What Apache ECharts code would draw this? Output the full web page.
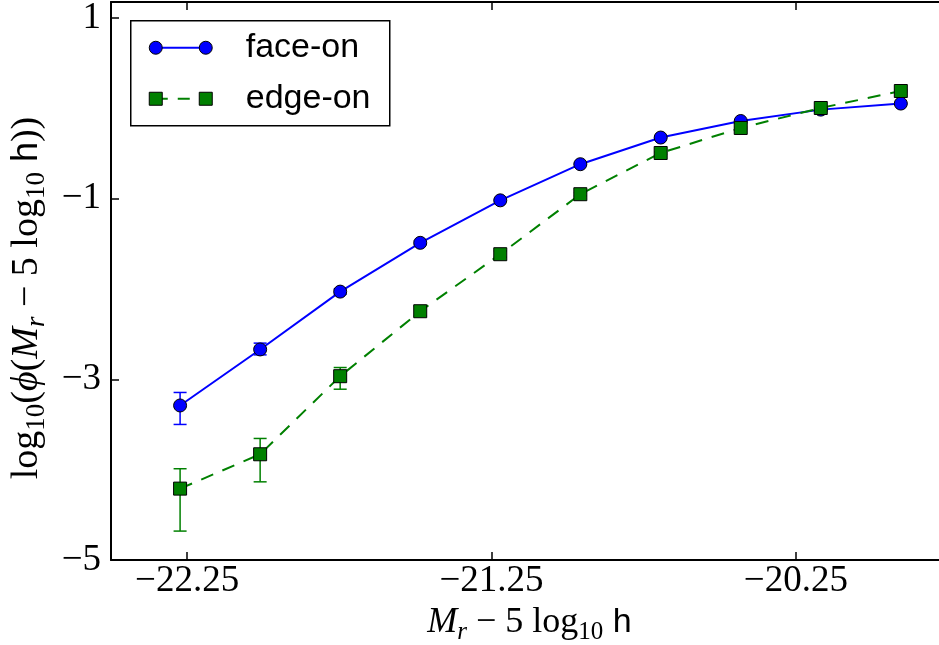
<!DOCTYPE html>
<html>
<head>
<meta charset="utf-8">
<script src="https://cdn.jsdelivr.net/npm/echarts@6.0.0/dist/echarts.min.js"></script>
<style>
html,body{margin:0;padding:0;background:#fff;}
#chart{width:939px;height:645px;}
</style>
</head>
<body>
<div id="chart"></div>
<script>
// Magnitude bins (M_r - 5 log10 h)
const magBins = [-22.273, -22.010, -21.747, -21.484, -21.221, -20.958, -20.694, -20.431, -20.168, -19.905];
// face-on: log10 phi, lower and upper error bounds
const faceOnY  = [-3.29, -2.67, -2.03, -1.49, -1.02, -0.62, -0.325, -0.142, -0.016, 0.051];
const faceOnLo = [-3.50, -2.73, -2.06, -1.51, -1.03, -0.63, -0.33, -0.15, -0.022, 0.045];
const faceOnHi = [-3.146, -2.60, -2.00, -1.47, -1.01, -0.61, -0.32, -0.135, -0.010, 0.057];
// edge-on
const edgeOnY  = [-4.21, -3.83, -2.966, -2.247, -1.616, -0.952, -0.496, -0.219, 0.002, 0.19];
const edgeOnLo = [-4.68, -4.135, -3.11, -2.30, -1.65, -0.97, -0.51, -0.23, -0.005, 0.18];
const edgeOnHi = [-3.99, -3.655, -2.87, -2.19, -1.58, -0.935, -0.485, -0.21, 0.010, 0.20];
// tick labels
const xTicks = [-22.25, -21.25, -20.25];
const yTicks = [-5, -3, -1, 1];
const seriesNames = ['face-on', 'edge-on'];

const BLUE = '#0000ff', GREEN = '#008000';
const SERIF = "'Liberation Serif', 'DejaVu Serif', serif";
const SANS = "'Liberation Sans', Arial, sans-serif";

const fmtNum = (v, d) => (v < 0 ? '\u2212' : '') + Math.abs(v).toFixed(d);

function richStyles(size) {
  const lh = Math.round(size * 1.25);
  const sub = Math.round(size * 0.7);
  const subLh = Math.round(size * 0.56);
  return {
    n: {fontFamily: SERIF, fontSize: size, lineHeight: lh, color: '#000', verticalAlign: 'middle'},
    i: {fontFamily: SERIF, fontSize: size, lineHeight: lh, fontStyle: 'italic', color: '#000'},
    s: {fontFamily: SERIF, fontSize: sub, lineHeight: subLh, verticalAlign: 'bottom', color: '#000'},
    si: {fontFamily: SERIF, fontSize: sub, lineHeight: subLh, fontStyle: 'italic', verticalAlign: 'bottom', color: '#000'},
    h: {fontFamily: SANS, fontSize: Math.round(size * 0.95), lineHeight: lh, color: '#000'}
  };
}

function pairs(xs, ys) { return xs.map((x, i) => [x, ys[i]]); }
function errData(xs, lo, hi) { return xs.map((x, i) => [x, lo[i], hi[i]]); }

function errRender(color) {
  return function (params, api) {
    const x = api.value(0), lo = api.value(1), hi = api.value(2);
    const p1 = api.coord([x, lo]);
    const p2 = api.coord([x, hi]);
    const w = 6.5;
    const st = {stroke: color, lineWidth: 1.5};
    return {
      type: 'group',
      children: [
        {type: 'line', shape: {x1: p1[0], y1: p1[1], x2: p2[0], y2: p2[1]}, style: st},
        {type: 'line', shape: {x1: p1[0] - w, y1: p1[1], x2: p1[0] + w, y2: p1[1]}, style: st},
        {type: 'line', shape: {x1: p2[0] - w, y1: p2[1], x2: p2[0] + w, y2: p2[1]}, style: st}
      ]
    };
  };
}

const axisLineStyle = {show: true, onZero: false, lineStyle: {color: '#000', width: 2}};
const tickStyle = {color: '#000', width: 1.5};

const chart = echarts.init(document.getElementById('chart'), null, {renderer: 'canvas'});

const option = {
  animation: false,
  backgroundColor: '#fff',
  grid: {left: 111, top: 2, right: -9, bottom: 85, containLabel: false, outerBoundsMode: 'none'},
  xAxis: [
    {
      type: 'value', min: -22.5, max: -19.75, position: 'bottom',
      axisLine: axisLineStyle,
      axisTick: {show: true, inside: true, length: 8, lineStyle: tickStyle, customValues: xTicks},
      axisLabel: {show: true, customValues: xTicks, formatter: v => fmtNum(v, 2), fontFamily: SERIF, fontSize: 37, color: '#000', margin: 3},
      splitLine: {show: false},
      name: '{i|M}{si|r}{n| \u2212 5 log}{s|10}{h| h}',
      nameLocation: 'middle', nameGap: 37,
      nameTextStyle: {rich: richStyles(36)}
    },
    {
      type: 'value', min: -22.5, max: -19.75, position: 'top',
      axisLine: axisLineStyle,
      axisTick: {show: true, inside: true, length: 8, lineStyle: tickStyle, customValues: xTicks},
      axisLabel: {show: false},
      splitLine: {show: false}
    }
  ],
  yAxis: [
    {
      type: 'value', min: -5, max: 1.175, position: 'left',
      axisLine: axisLineStyle,
      axisTick: {show: true, inside: true, length: 8, lineStyle: tickStyle, customValues: yTicks},
      axisLabel: {show: true, customValues: yTicks, formatter: v => fmtNum(v, 0), fontFamily: SERIF, fontSize: 37, color: '#000', margin: 10},
      splitLine: {show: false},
      name: '{n|log}{s|10}{n|(}{i|\u03d5}{n|(}{i|M}{si|r}{n| \u2212 5 log}{s|10}{h| h}{n|))}',
      nameLocation: 'middle', nameRotate: 90, nameGap: 60,
      nameTextStyle: {rich: richStyles(38), padding: [0, 34, 0, 0]}
    },
    {
      type: 'value', min: -5, max: 1.175, position: 'right',
      axisLine: axisLineStyle,
      axisTick: {show: true, inside: true, length: 8, lineStyle: tickStyle, customValues: yTicks},
      axisLabel: {show: false},
      splitLine: {show: false}
    }
  ],
  series: [
    {
      type: 'custom', name: seriesNames[0] + ' errors', renderItem: errRender(BLUE),
      data: errData(magBins, faceOnLo, faceOnHi), encode: {x: 0, y: [1, 2]}, z: 2, clip: false
    },
    {
      type: 'line', name: seriesNames[0], data: pairs(magBins, faceOnY),
      symbol: 'circle', symbolSize: 13, showAllSymbol: true,
      lineStyle: {color: BLUE, width: 2, type: 'solid'},
      itemStyle: {color: BLUE, borderColor: '#000', borderWidth: 1},
      z: 3, emphasis: {disabled: true}
    },
    {
      type: 'custom', name: seriesNames[1] + ' errors', renderItem: errRender(GREEN),
      data: errData(magBins, edgeOnLo, edgeOnHi), encode: {x: 0, y: [1, 2]}, z: 4, clip: false
    },
    {
      type: 'line', name: seriesNames[1], data: pairs(magBins, edgeOnY),
      symbol: 'rect', symbolSize: 13, showAllSymbol: true,
      lineStyle: {color: GREEN, width: 2, type: [13, 10]},
      itemStyle: {color: GREEN, borderColor: '#000', borderWidth: 1},
      z: 5, emphasis: {disabled: true}
    }
  ],
  graphic: [
    {
      type: 'group', left: 130, top: 20, z: 100,
      children: [
        {type: 'rect', shape: {x: 0, y: 0, width: 259, height: 105}, style: {fill: '#fff', stroke: '#000', lineWidth: 1.5}},
        {type: 'line', shape: {x1: 25, y1: 27, x2: 75, y2: 27}, style: {stroke: BLUE, lineWidth: 2}},
        {type: 'circle', shape: {cx: 25, cy: 27, r: 6.5}, style: {fill: BLUE, stroke: '#000', lineWidth: 1}},
        {type: 'circle', shape: {cx: 75, cy: 27, r: 6.5}, style: {fill: BLUE, stroke: '#000', lineWidth: 1}},
        {type: 'text', x: 115, y: 27, style: {text: seriesNames[0], fontFamily: SANS, fontSize: 34, fill: '#000', verticalAlign: 'middle', align: 'left'}},
        {type: 'line', shape: {x1: 25, y1: 78, x2: 75, y2: 78}, style: {stroke: GREEN, lineWidth: 2, lineDash: [12, 10]}},
        {type: 'rect', shape: {x: 18.5, y: 71.5, width: 13, height: 13}, style: {fill: GREEN, stroke: '#000', lineWidth: 1}},
        {type: 'rect', shape: {x: 68.5, y: 71.5, width: 13, height: 13}, style: {fill: GREEN, stroke: '#000', lineWidth: 1}},
        {type: 'text', x: 115, y: 78, style: {text: seriesNames[1], fontFamily: SANS, fontSize: 34, fill: '#000', verticalAlign: 'middle', align: 'left'}}
      ]
    }
  ]
};
chart.setOption(option);
</script>
</body>
</html>
